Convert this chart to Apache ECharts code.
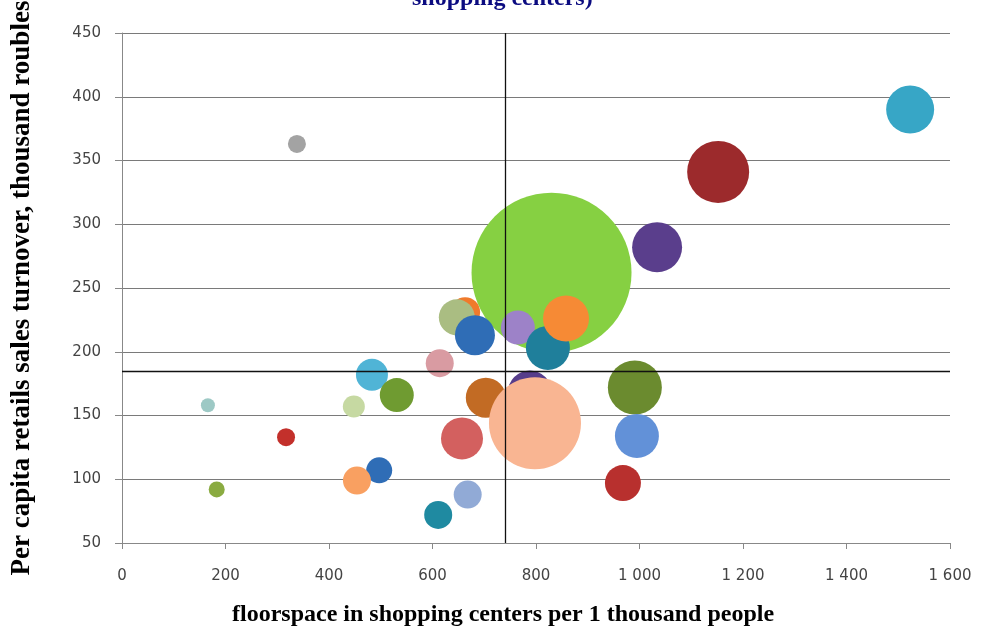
<!DOCTYPE html>
<html>
<head>
<meta charset="utf-8">
<script src="https://cdn.jsdelivr.net/npm/echarts@6/dist/echarts.min.js"></script>
<style>
  html, body { margin: 0; padding: 0; background: #fff; }
  #chart { width: 981px; height: 629px; }
</style>
</head>
<body>
<div id="chart"></div>
<script>
// floorspace per 1000 people (x), sales turnover per capita (y), bubble weight
const floorspace = [1523, 1152, 1034, 830, 765, 823, 858, 788, 703, 798, 657, 668, 611,
  991, 995, 968, 614, 663, 647, 682, 338, 483, 531, 448, 166, 317, 497, 454, 183];
const turnover = [390, 341, 282, 262, 219, 203, 226, 168, 164, 144, 132, 88, 72,
  172, 134, 97, 191, 231, 227, 213, 363, 182, 166, 157, 158, 133, 107, 99, 92];
const weight = [576, 961, 625, 6400, 289, 484, 529, 484, 400, 2116, 441, 196, 196,
  729, 484, 324, 196, 225, 324, 400, 81, 256, 289, 121, 49, 81, 169, 196, 64];
// bubble colours (style, one per bubble)
const colors = ['#37a6c6', '#9c2a2c', '#5a3e8c', '#86d042', '#9d82c8', '#1f7f9b', '#f68a35',
  '#573d8b', '#c26b24', '#f9b592', '#d3605f', '#91aad6', '#1f8aa1',
  '#6b8b2f', '#6291d8', '#b8302e', '#d99ba2', '#f07a2b', '#aabd82', '#2f6db6',
  '#a3a3a3', '#50b4d6', '#6f9b31', '#c6d9a2', '#9dc9c5', '#c3302b', '#2f6db6', '#f9a061', '#8aab41'];
const xTicks = [0, 200, 400, 600, 800, 1000, 1200, 1400, 1600];
const yTicks = [50, 100, 150, 200, 250, 300, 350, 400, 450];
const xSplit = 740;
const ySplit = 185;

const points = floorspace.map((x, i) => ({
  value: [x, turnover[i], weight[i]],
  itemStyle: { color: colors[i], opacity: 1 }
}));

const chart = echarts.init(document.getElementById('chart'));
chart.setOption({
  animation: false,
  grid: { left: 122, right: 31, top: 33, bottom: 86, containLabel: false, outerBoundsMode: 'none' },
  xAxis: {
    type: 'value',
    min: xTicks[0],
    max: xTicks[xTicks.length - 1],
    interval: 200,
    axisLine: { show: true, lineStyle: { color: '#888', width: 1 } },
    axisTick: { show: true, length: 6, lineStyle: { color: '#888' } },
    axisLabel: {
      margin: 26,
      color: '#444',
      fontFamily: 'DejaVu Sans',
      fontSize: 15,
      formatter: v => v >= 1000 ? String(v).replace(/(\d)(\d{3})$/, '$1 $2') : String(v)
    },
    splitLine: { show: false }
  },
  yAxis: {
    type: 'value',
    min: yTicks[0],
    max: yTicks[yTicks.length - 1],
    interval: 50,
    name: 'Per capita retails sales turnover, thousand roubles',
    nameLocation: 'middle',
    nameGap: 86,
    nameTextStyle: { fontFamily: 'Liberation Serif', fontWeight: 'bold', fontSize: 27, color: '#000' },
    axisLine: { show: true, lineStyle: { color: '#888', width: 1 } },
    axisTick: { show: true, length: 7, lineStyle: { color: '#888' } },
    axisLabel: { margin: 21, color: '#444', fontFamily: 'DejaVu Sans', fontSize: 15 },
    splitLine: { show: true, lineStyle: { color: '#7a7a7a', width: 1 } }
  },
  graphic: [
    {
      type: 'text', left: 232, top: 603,
      style: {
        text: 'floorspace in shopping centers per 1 thousand people',
        font: 'bold 24px "Liberation Serif"', fill: '#000'
      }
    },
    {
      type: 'text', left: 412, top: -13,
      style: {
        text: 'shopping centers)',
        font: 'bold 24px "Liberation Serif"', fill: '#0b0b80'
      }
    }
  ],
  series: [{
    type: 'scatter',
    data: points,
    symbolSize: d => 2 * Math.sqrt(d[2]),
    emphasis: { disabled: true },
    silent: true,
    markLine: {
      silent: true,
      symbol: 'none',
      label: { show: false },
      lineStyle: { color: '#111', width: 1.3, type: 'solid' },
      data: [{ xAxis: xSplit }, { yAxis: ySplit }]
    }
  }]
});
</script>
</body>
</html>
